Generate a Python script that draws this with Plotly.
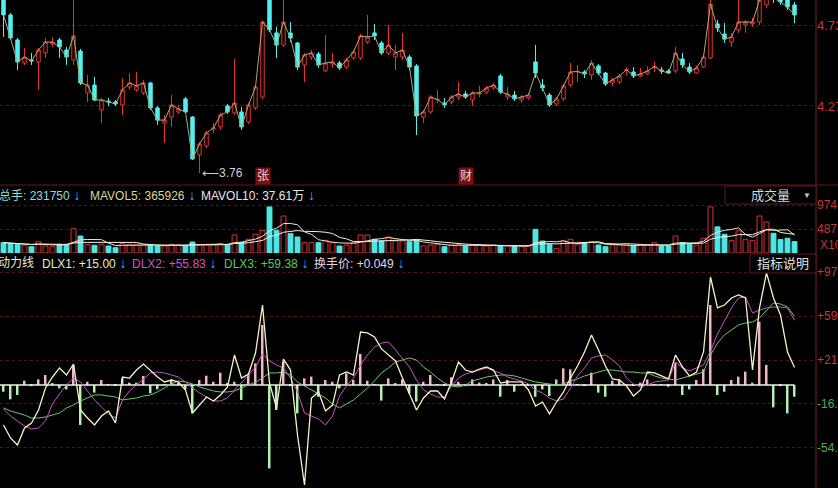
import plotly.graph_objects as go
import pandas as pd

W, H = 838, 488
PLOT_W = 816          # plot area right edge (axis line) in px

# ---------------- data ----------------
idx = list(range(114))

open_ = [4.889,4.787,4.645,4.514,4.531,4.520,4.571,4.622,4.645,4.588,
4.531,4.582,4.344,4.389,4.247,4.298,4.293,4.276,4.378,4.361,
4.344,4.401,4.259,4.173,4.207,4.236,4.310,4.207,3.992,4.043,
4.139,4.151,4.270,4.230,4.236,4.179,4.259,4.321,4.900,4.685,
4.616,4.685,4.628,4.503,4.548,4.565,4.469,4.508,4.514,4.491,
4.543,4.543,4.633,4.685,4.628,4.571,4.548,4.548,4.548,4.497,
4.207,4.236,4.304,4.287,4.293,4.321,4.338,4.304,4.338,4.349,
4.372,4.440,4.321,4.332,4.304,4.315,4.520,4.389,4.332,4.281,
4.310,4.389,4.463,4.463,4.446,4.497,4.457,4.401,4.406,4.474,
4.463,4.440,4.452,4.491,4.474,4.469,4.469,4.537,4.491,4.457,
4.491,4.543,4.736,4.679,4.633,4.702,4.730,4.736,4.747,4.844,
4.900,4.889,4.872,4.844]

close = [4.787,4.656,4.520,4.548,4.526,4.588,4.633,4.633,4.605,4.548,
4.668,4.401,4.389,4.304,4.304,4.293,4.281,4.361,4.401,4.384,
4.401,4.259,4.190,4.190,4.276,4.253,4.236,3.969,4.054,4.117,
4.145,4.219,4.236,4.287,4.151,4.276,4.378,4.747,4.702,4.616,
4.747,4.656,4.491,4.560,4.571,4.503,4.514,4.520,4.486,4.531,
4.577,4.668,4.662,4.668,4.571,4.616,4.571,4.588,4.491,4.213,
4.236,4.321,4.307,4.276,4.321,4.338,4.321,4.344,4.344,4.372,
4.389,4.349,4.338,4.310,4.321,4.332,4.457,4.372,4.276,4.310,
4.384,4.463,4.466,4.452,4.514,4.457,4.395,4.418,4.440,4.477,
4.440,4.452,4.469,4.494,4.469,4.457,4.571,4.503,4.463,4.486,
4.548,4.849,4.713,4.650,4.662,4.747,4.747,4.747,4.872,4.917,
4.883,4.861,4.832,4.787]

high = [4.900,4.798,4.656,4.599,4.571,4.599,4.656,4.662,4.656,4.605,
4.900,4.594,4.446,4.435,4.315,4.315,4.304,4.429,4.457,4.463,
4.418,4.406,4.270,4.219,4.332,4.276,4.321,4.213,4.065,4.128,
4.173,4.230,4.281,4.537,4.264,4.287,4.389,4.758,4.929,4.719,
4.889,4.747,4.633,4.571,4.588,4.577,4.673,4.571,4.526,4.543,
4.588,4.679,4.787,4.736,4.639,4.730,4.616,4.685,4.560,4.508,
4.247,4.332,4.361,4.315,4.332,4.406,4.355,4.355,4.384,4.384,
4.401,4.452,4.378,4.355,4.332,4.344,4.616,4.423,4.344,4.321,
4.395,4.514,4.503,4.474,4.531,4.508,4.463,4.429,4.452,4.491,
4.491,4.486,4.497,4.520,4.491,4.480,4.605,4.571,4.514,4.497,
4.560,4.872,4.758,4.741,4.685,4.889,4.758,4.770,4.889,4.940,
4.929,4.917,4.895,4.861]

low = [4.662,4.645,4.474,4.503,4.503,4.361,4.543,4.605,4.543,4.503,
4.503,4.389,4.293,4.298,4.173,4.270,4.270,4.219,4.361,4.349,
4.332,4.247,4.162,4.060,4.151,4.225,4.230,3.963,3.889,4.031,
4.117,4.134,4.225,4.219,4.134,4.168,4.247,4.310,4.690,4.543,
4.605,4.633,4.474,4.406,4.531,4.486,4.463,4.486,4.474,4.480,
4.531,4.531,4.622,4.645,4.560,4.560,4.474,4.531,4.474,4.105,
4.173,4.225,4.287,4.259,4.281,4.304,4.310,4.270,4.321,4.338,
4.361,4.338,4.304,4.298,4.287,4.304,4.429,4.355,4.264,4.270,
4.298,4.378,4.406,4.429,4.418,4.446,4.384,4.384,4.395,4.446,
4.429,4.435,4.446,4.463,4.452,4.452,4.457,4.486,4.452,4.452,
4.486,4.537,4.690,4.628,4.605,4.685,4.685,4.719,4.730,4.827,
4.855,4.844,4.815,4.741]

# volume in thousands of lots (axis unit X1000)
volume = [210,190,177,162,128,230,142,128,177,177,
500,345,177,157,177,142,108,190,177,177,
162,162,142,142,177,162,142,223,162,162,
162,190,177,365,210,278,380,460,935,460,
750,392,325,210,210,210,258,210,142,162,
210,365,365,278,243,325,243,243,230,258,
142,162,177,128,162,162,142,162,162,142,
162,142,142,142,128,142,480,243,177,95,
243,278,177,210,210,162,128,162,162,162,
142,162,162,210,142,142,345,210,177,162,
298,935,530,380,250,450,270,250,750,630,
400,275,300,231.75]

dlx1 = [-34.5,-45.7,-51.8,-37.1,-32.8,-21.6,-2.6,6.9,14.7,8.6,
18.1,-21.6,-28.5,-34.5,-26.8,-22.4,-32.8,6.9,6.0,12.9,
18.1,12.1,6.9,2.6,4.3,2.6,-4.3,-24.2,-17.3,-10.4,
-13.8,-8.6,-1.7,25.9,6.0,9.5,27.6,69.0,1.7,-19.8,
22.4,12.9,-43.2,-86.3,-11.2,-6.0,-22.4,-17.3,8.6,11.2,
8.6,45.7,44.9,41.4,31.1,25.9,20.7,6.0,-8.6,-21.6,
-11.2,-5.2,-5.2,-12.1,2.6,19.8,12.9,11.2,13.8,15.5,
12.9,1.7,2.6,2.6,2.6,-4.3,-18.1,-14.7,-25.0,-14.7,
-6.0,6.0,16.4,28.5,43.2,30.2,16.4,5.2,4.3,-0.9,
-9.5,-4.3,11.2,10.4,7.8,5.2,25.9,15.5,7.8,11.2,
28.5,93.2,66.5,69.0,75.1,77.7,75.1,12.9,66.5,96.7,
75.1,60.4,28.5,15.00]

dlx2 = [-20.7,-26.8,-31.1,-35.4,-38.0,-37.1,-31.1,-16.4,-7.8,0.0,
6.0,2.6,-5.2,-12.9,-19.0,-25.0,-28.5,-12.9,-5.2,0.0,
6.0,10.4,11.2,10.4,8.6,6.9,2.6,-2.6,-6.9,-10.4,
-13.8,-13.8,-11.2,-4.3,1.7,8.6,15.5,26.8,20.7,17.3,
14.7,6.0,-6.0,-24.2,-26.8,-29.3,-34.5,-26.8,-9.5,-0.9,
6.0,17.3,25.9,32.8,36.2,37.1,30.2,23.3,15.5,4.3,
-4.3,-7.8,-10.4,-10.4,-0.9,6.0,9.5,11.2,12.9,14.7,
12.1,10.4,6.9,5.2,3.5,0.9,-4.3,-6.9,-11.2,-13.8,
-12.1,-2.6,7.8,14.7,23.3,25.0,25.9,21.6,16.4,6.0,
0.9,-1.7,0.0,2.6,3.5,4.3,19.8,14.7,12.1,14.7,
17.3,29.3,44.0,55.2,66.5,75.1,75.9,62.1,64.7,66.5,
67.3,67.3,66.5,55.83]

dlx3 = [-19.8,-22.4,-24.2,-25.9,-28.5,-28.5,-27.6,-25.9,-24.2,-19.8,
-17.3,-13.8,-11.2,-8.6,-8.6,-9.5,-10.4,-12.9,-12.1,-11.2,
-9.5,-8.6,-6.0,-2.6,0.9,3.5,2.6,0.9,-1.7,-3.5,
-5.2,-6.0,-6.0,-5.2,-2.6,0.0,2.6,6.0,10.4,10.4,
11.2,8.6,2.6,-0.9,-4.3,-7.8,-11.2,-16.4,-19.8,-16.4,
-12.9,-7.8,-2.6,3.5,10.4,14.7,19.8,21.6,23.3,21.6,
15.5,11.2,6.0,1.7,-0.9,-1.7,0.0,3.5,5.2,6.9,
7.8,8.6,8.6,7.8,6.0,4.3,2.6,1.7,0.9,0.0,
0.9,3.5,5.2,7.8,9.5,11.2,12.9,12.9,12.1,11.2,
11.2,10.4,10.4,7.8,6.0,5.2,4.3,6.0,7.8,9.5,
11.2,25.9,36.2,43.2,47.5,51.8,53.5,54.4,57.8,63.9,
70.8,69.9,67.3,59.38]

turnover = [-5.8,-12.4,-8.6,3.7,-1.0,4.8,8.6,1.0,-2.9,-3.8,
17.3,-34.5,2.8,-6.6,4.3,0.5,-0.5,5.7,2.0,2.0,
7.8,-7.2,-3.8,0.5,4.8,2.0,-3.8,-24.5,4.3,8.0,
2.8,10.6,1.0,2.8,-12.9,9.5,18.6,51.8,-72.0,-21.6,
20.1,-1.0,-24.5,5.7,7.2,-10.1,4.3,2.8,-2.9,10.0,
4.3,26.8,3.7,0.5,-13.5,5.7,1.4,4.8,-7.2,-14.4,
2.8,8.6,0.5,-0.5,6.6,2.8,-1.0,4.8,2.0,1.0,
4.8,-10.1,4.3,-5.8,0.5,-0.5,-10.1,-3.8,-9.5,4.8,
14.3,13.5,0.5,-0.5,10.6,-6.6,-10.1,3.7,4.8,0.5,
-0.5,2.0,4.8,0.5,0.5,-1.5,19.2,-8.6,-3.8,4.3,
13.5,69.0,-8.6,-5.8,4.3,7.2,11.5,2.0,54.6,17.3,
-19.3,-1.0,-24.5,-10.1]

for name, arr in [("open", open_), ("close", close), ("high", high), ("low", low),
                  ("volume", volume), ("dlx1", dlx1), ("dlx2", dlx2), ("dlx3", dlx3),
                  ("turnover", turnover)]:
    assert len(arr) == len(idx), (name, len(arr))

price_ticks = [4.73, 4.27]
vol_ticks = [487, 974]
dlx_ticks = [97.30, 59.40, 21.50, -16.40, -54.30]

low_label = "3.76"
low_index = 28
event_marks = [(37, "张"), (66, "财")]

vol_header = [("总手: 231750", "#8fdcdc", -3), ("MAVOL5: 365926", "#dcd49a", 88),
              ("MAVOL10: 37.61万", "#e8e8e8", 199)]
dlx_header = [("动力线", "#e8e8cc", -4, False), ("DLX1: +15.00", "#ecebc4", 40, True),
              ("DLX2: +55.83", "#cc55cc", 130, True), ("DLX3: +59.38", "#5cc85c", 222, True),
              ("换手价: +0.049", "#e4d4e4", 312, True)]

# ---------------- helpers (layout positions) ----------------
def px_x(p):
    return p / PLOT_W

def px_y(p):
    return 1 - p / H

FONT = "Liberation Sans, Noto Sans CJK SC, sans-serif"
RED = "#e63434"
CYAN = "#54f0f0"
ARROW = "#3cb4f5"
GRID = "#4e1616"
AXRED = "#c23a3a"
AXGREEN = "#4fb04f"
ARROW_HTML = f'<span style="color:{ARROW};font-size:14px"><b> ↓</b></span>'

fig = go.Figure()

# ---- main price panel ----
fig.add_trace(go.Scatter(x=idx, y=close, mode="lines", line=dict(color="#a9ad72", width=1),
                         xaxis="x", yaxis="y", hoverinfo="skip", showlegend=False))
fig.add_trace(go.Candlestick(x=idx, open=open_, high=high, low=low, close=close,
                             increasing=dict(line=dict(color=RED, width=1), fillcolor="#000000"),
                             decreasing=dict(line=dict(color=CYAN, width=1), fillcolor=CYAN),
                             whiskerwidth=0, xaxis="x", yaxis="y", showlegend=False))

# ---- volume panel ----
up = [c >= o for o, c in zip(open_, close)]
fig.add_trace(go.Bar(x=idx, y=volume, width=0.7,
                     marker=dict(color=["#000000" if u else "#4fe6e6" for u in up],
                                 line=dict(color=["#d83232" if u else "#4fe6e6" for u in up], width=1)),
                     xaxis="x", yaxis="y2", showlegend=False))
ma5 = pd.Series(volume).rolling(5, min_periods=1).mean()
ma10 = pd.Series(volume).rolling(10, min_periods=1).mean()
fig.add_trace(go.Scatter(x=idx, y=ma10, mode="lines", line=dict(color="#f4f4f4", width=1),
                         xaxis="x", yaxis="y2", showlegend=False))
fig.add_trace(go.Scatter(x=idx, y=ma5, mode="lines", line=dict(color="#f0e8c0", width=1),
                         xaxis="x", yaxis="y2", showlegend=False))

# ---- DLX panel ----
fig.add_trace(go.Bar(x=idx, y=turnover, width=0.28,
                     marker=dict(color=["#f2b6c8" if v >= 0 else "#b4f0ae" for v in turnover], line=dict(width=0)),
                     xaxis="x", yaxis="y3", showlegend=False))
fig.add_trace(go.Scatter(x=[idx[0] - 0.5, idx[-1]], y=[0, 0], mode="lines",
                         line=dict(color="#f0f0f0", width=1.5), xaxis="x", yaxis="y3",
                         hoverinfo="skip", showlegend=False))
fig.add_trace(go.Scatter(x=idx, y=dlx3, mode="lines", line=dict(color="#6cc86c", width=1),
                         xaxis="x", yaxis="y3", showlegend=False))
fig.add_trace(go.Scatter(x=idx, y=dlx2, mode="lines", line=dict(color="#c458c4", width=1),
                         xaxis="x", yaxis="y3", showlegend=False))
fig.add_trace(go.Scatter(x=idx, y=dlx1, mode="lines", line=dict(color="#f4f2c8", width=1.3),
                         xaxis="x", yaxis="y3", showlegend=False))

axis_common = dict(side="right", anchor="x", showline=False, zeroline=False, ticks="",
                   showgrid=True, gridcolor=GRID, griddash="dot", gridwidth=1, fixedrange=True,
                   automargin=False)

fig.update_layout(
    width=W, height=H,
    margin=dict(l=0, r=W - PLOT_W, t=0, b=0, autoexpand=False),
    paper_bgcolor="#000000", plot_bgcolor="#000000",
    barmode="overlay",
    showlegend=False,
    font=dict(family=FONT),
    xaxis=dict(range=[-0.5, (PLOT_W - 3.5) / 7], visible=False, domain=[0, 1],
               rangeslider=dict(visible=False), anchor="y", fixedrange=True, automargin=False),
    yaxis=dict(domain=[px_y(185), 1], range=[3.821, 4.872], tickvals=price_ticks,
               tickformat=".2f", tickfont=dict(color=AXRED, size=13, family=FONT), **axis_common),
    yaxis2=dict(domain=[px_y(253), px_y(185)], range=[0, 1380], tickvals=vol_ticks,
                tickformat="d", tickfont=dict(color=AXRED, size=12, family=FONT), **axis_common),
    yaxis3=dict(domain=[0, px_y(253)], range=[-88.9, 113.9], tickvals=dlx_ticks,
                ticktext=[f'<span style="color:{AXRED if v > 0 else AXGREEN}">{v:+.2f}</span>' for v in dlx_ticks],
                tickfont=dict(size=12, family=FONT), **axis_common),
)

shapes = [
    dict(type="line", xref="paper", yref="paper", x0=1, x1=1, y0=0, y1=1,
         line=dict(color="#7e1c1c", width=1), layer="above"),
    dict(type="line", xref="paper", yref="paper", x0=0, x1=W / PLOT_W, y0=px_y(185), y1=px_y(185),
         line=dict(color="#6e1616", width=1.2), layer="above"),
    dict(type="rect", xref="paper", yref="paper", x0=px_x(725), x1=1, y0=px_y(204), y1=px_y(186),
         line=dict(color="#5a1c1c", width=1), fillcolor="#000000", layer="above"),
    dict(type="rect", xref="paper", yref="paper", x0=px_x(750), x1=1, y0=px_y(273), y1=px_y(254),
         line=dict(color="#5a1c1c", width=1), fillcolor="#000000", layer="above"),
]

ann = []
# volume header
for txt, col, x0 in vol_header:
    ann.append(dict(xref="paper", yref="paper", x=px_x(x0), y=px_y(195), xanchor="left", yanchor="middle",
                    showarrow=False, font=dict(size=12, family=FONT),
                    text=f'<span style="color:{col}">{txt}</span>' + ARROW_HTML))
# dlx header
for txt, col, x0, arrow in dlx_header:
    t = f'<span style="color:{col}">{txt}</span>'
    if arrow:
        t += ARROW_HTML
    ann.append(dict(xref="paper", yref="paper", x=px_x(x0), y=px_y(263), xanchor="left", yanchor="middle",
                    showarrow=False, font=dict(size=12, family=FONT), text=t))
# boxes' text
ann.append(dict(xref="paper", yref="paper", x=px_x(770), y=px_y(195.5), xanchor="center", yanchor="middle",
                showarrow=False, text="成交量", font=dict(size=13, color="#d8d8d8", family=FONT)))
ann.append(dict(xref="paper", yref="paper", x=px_x(807), y=px_y(195), xanchor="center", yanchor="middle",
                showarrow=False, text="▼", font=dict(size=8, color="#c8c8c8", family=FONT)))
ann.append(dict(xref="paper", yref="paper", x=px_x(783), y=px_y(263.5), xanchor="center", yanchor="middle",
                showarrow=False, text="指标说明", font=dict(size=13, color="#e0e0e0", family=FONT)))
# volume unit
ann.append(dict(xref="paper", yref="paper", x=1, y=px_y(245), xanchor="left", yanchor="middle", xshift=2,
                showarrow=False, text="X1000", font=dict(size=12, color=AXRED, family=FONT)))
# low marker
ann.append(dict(xref="x", yref="y", x=low_index, y=low[low_index], xanchor="left", yanchor="middle",
                xshift=0, showarrow=False, text="⟵" + low_label,
                font=dict(size=12, color="#d0d0d0", family=FONT)))
# event marks
for i, ch in event_marks:
    ann.append(dict(xref="x", yref="paper", x=i, y=px_y(176), xanchor="center", yanchor="middle",
                    showarrow=False, text=ch, bgcolor="#7a1010", borderpad=1,
                    font=dict(size=12, color="#f2d6d6", family=FONT)))

fig.update_layout(shapes=shapes, annotations=ann)
fig.write_html("out.html", config={"displayModeBar": False},
               post_script="document.body.style.margin='0';document.body.style.overflow='hidden';")
